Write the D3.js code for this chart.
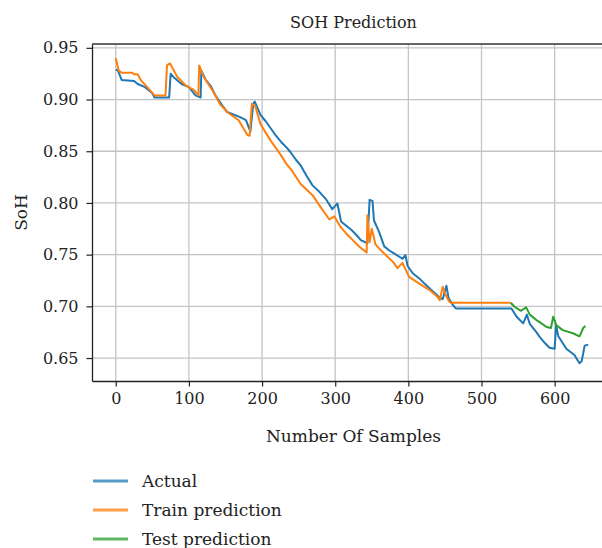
<!DOCTYPE html>
<html>
<head>
<meta charset="utf-8">
<script src="https://cdn.jsdelivr.net/npm/d3@7"></script>
<style>
    body { margin: 0; background: #fff; }
    text { font-family: "DejaVu Serif", "Liberation Serif", serif; fill: #222; }
</style>
</head>
<body>
<div id="graphContainer"></div>
<script>
//values (sample index / SoH)
var actualX = [0, 3, 8, 25, 30, 40, 50, 53, 73, 75, 80, 90, 100, 109, 116, 117, 123, 130, 137, 146, 152, 159, 170, 178, 184, 188, 190, 198, 205, 212, 219, 226, 233, 239, 246, 253, 261, 269, 278, 287, 296, 303, 308, 315, 322, 329, 335, 344, 347, 351, 353, 360, 367, 374, 381, 392, 396, 399, 406, 415, 422, 431, 442, 447, 452, 455, 461, 465, 541, 548, 557, 562, 566, 575, 579, 586, 593, 600, 602, 605, 616, 627, 634, 637, 641, 646];
var actualY = [0.929, 0.928, 0.919, 0.918, 0.915, 0.912, 0.906, 0.902, 0.902, 0.925, 0.921, 0.915, 0.912, 0.904, 0.902, 0.928, 0.919, 0.913, 0.903, 0.894, 0.888, 0.886, 0.883, 0.880, 0.869, 0.896, 0.898, 0.885, 0.879, 0.872, 0.865, 0.859, 0.854, 0.849, 0.842, 0.836, 0.826, 0.817, 0.811, 0.804, 0.794, 0.7995, 0.782, 0.778, 0.774, 0.769, 0.764, 0.761, 0.803, 0.802, 0.783, 0.772, 0.758, 0.754, 0.751, 0.746, 0.7495, 0.739, 0.732, 0.727, 0.722, 0.716, 0.709, 0.707, 0.720, 0.708, 0.701, 0.698, 0.698, 0.690, 0.6835, 0.692, 0.683, 0.675, 0.671, 0.665, 0.660, 0.659, 0.682, 0.671, 0.659, 0.653, 0.645, 0.647, 0.662, 0.663];

var trainX = [0, 4, 8, 22, 25, 30, 34, 43, 53, 68, 70, 74, 84, 95, 107, 113, 114, 120, 132, 143, 154, 168, 180, 183, 186, 191, 198, 205, 212, 219, 226, 233, 241, 253, 269, 280, 292, 299, 307, 315, 324, 333, 343, 344, 347, 350, 355, 360, 370, 379, 385, 392, 401, 415, 429, 440, 443, 447, 451, 456, 458, 540];
var trainY = [0.940, 0.928, 0.926, 0.926, 0.9245, 0.9245, 0.919, 0.912, 0.904, 0.904, 0.933, 0.935, 0.922, 0.914, 0.909, 0.904, 0.933, 0.922, 0.909, 0.895, 0.887, 0.880, 0.8656, 0.865, 0.896, 0.893, 0.876, 0.868, 0.860, 0.853, 0.846, 0.838, 0.831, 0.818, 0.8075, 0.796, 0.784, 0.787, 0.777, 0.7705, 0.764, 0.7576, 0.752, 0.788, 0.762, 0.775, 0.760, 0.756, 0.749, 0.743, 0.737, 0.742, 0.7285, 0.722, 0.7157, 0.709, 0.706, 0.719, 0.711, 0.7045, 0.7035, 0.7035];

var testX = [540, 545, 554, 561, 566, 575, 579, 589, 595, 598, 602, 611, 625, 634, 639, 642];
var testY = [0.7035, 0.6996, 0.6957, 0.699, 0.692, 0.6867, 0.685, 0.680, 0.679, 0.690, 0.682, 0.677, 0.674, 0.671, 0.679, 0.681];

var xTicks = [0, 100, 200, 300, 400, 500, 600];
var yTicks = [0.65, 0.70, 0.75, 0.80, 0.85, 0.90, 0.95];

var seriesNames = ["Actual", "Train prediction", "Test prediction"];
var seriesColors = ["#1f77b4", "#ff7f0e", "#2ca02c"];

//set up drawing space
var width = 602,
    height = 548,
    margin = {top: 44, left: 92, bottom: 167, right: -13};

var svg = d3.select("#graphContainer").append("svg")
    .attr("width", width)
    .attr("height", height);

var chartWidth = width - margin.left - margin.right,
    chartHeight = height - margin.top - margin.bottom;

//matplotlib style limits with 5% padding
var x = d3.scaleLinear().domain([-32.5, 682.5]).range([0, chartWidth]);
var y = d3.scaleLinear().domain([0.6278, 0.9537]).range([chartHeight, 0]);

var chartLayer = svg.append("g")
    .attr("transform", "translate(" + [margin.left, margin.top] + ")");

//grid
chartLayer.append("g").selectAll("line").data(xTicks).enter().append("line")
    .attr("x1", function (d) { return x(d); })
    .attr("x2", function (d) { return x(d); })
    .attr("y1", 0)
    .attr("y2", chartHeight)
    .attr("stroke", "#c4c4c4")
    .attr("stroke-width", 1.3);

chartLayer.append("g").selectAll("line").data(yTicks).enter().append("line")
    .attr("x1", 0)
    .attr("x2", chartWidth)
    .attr("y1", function (d) { return y(d); })
    .attr("y2", function (d) { return y(d); })
    .attr("stroke", "#c4c4c4")
    .attr("stroke-width", 1.3);

//lines
var line = d3.line()
    .x(function (d) { return x(d[0]); })
    .y(function (d) { return y(d[1]); });

var series = [
    d3.zip(actualX, actualY),
    d3.zip(trainX, trainY),
    d3.zip(testX, testY)
];

chartLayer.append("g").selectAll("path").data(series).enter().append("path")
    .attr("d", line)
    .attr("fill", "none")
    .attr("stroke", function (d, i) { return seriesColors[i]; })
    .attr("stroke-width", 2)
    .attr("stroke-linejoin", "round");

//frame (top and right spines)
chartLayer.append("line")
    .attr("x1", 0).attr("x2", chartWidth)
    .attr("y1", 0).attr("y2", 0)
    .attr("stroke", "#333").attr("stroke-width", 1.3);
chartLayer.append("line")
    .attr("x1", chartWidth).attr("x2", chartWidth)
    .attr("y1", 0).attr("y2", chartHeight)
    .attr("stroke", "#333").attr("stroke-width", 1.3);

//axes
var xAxis = chartLayer.append("g")
    .attr("transform", "translate(0," + chartHeight + ")")
    .call(d3.axisBottom(x).tickValues(xTicks).tickFormat(d3.format("d")).tickSize(5.5).tickSizeOuter(0).tickPadding(6));

var yAxis = chartLayer.append("g")
    .call(d3.axisLeft(y).tickValues(yTicks).tickFormat(d3.format(".2f")).tickSize(5.5).tickSizeOuter(0).tickPadding(8));

[xAxis, yAxis].forEach(function (a) {
    a.select(".domain").attr("stroke", "#222").attr("stroke-width", 1.3);
    a.selectAll(".tick line").attr("stroke", "#222").attr("stroke-width", 1.2);
    a.selectAll(".tick text").attr("font-size", 16).attr("font-family", null).style("fill", "#222");
});

//title and axis labels
svg.append("text")
    .attr("x", margin.left + chartWidth / 2)
    .attr("y", 28)
    .attr("text-anchor", "middle")
    .attr("font-size", 16)
    .text("SOH Prediction");

svg.append("text")
    .attr("x", margin.left + chartWidth / 2)
    .attr("y", 442)
    .attr("text-anchor", "middle")
    .attr("font-size", 17)
    .text("Number Of Samples");

svg.append("text")
    .attr("transform", "translate(27," + (margin.top + chartHeight / 2) + ") rotate(-90)")
    .attr("text-anchor", "middle")
    .attr("font-size", 17)
    .text("SoH");

//legend
var legend = svg.append("g").selectAll("g").data(seriesNames).enter().append("g")
    .attr("transform", function (d, i) { return "translate(93," + (481 + i * 29) + ")"; });

legend.append("line")
    .attr("x1", 0).attr("x2", 35)
    .attr("stroke", function (d, i) { return seriesColors[i]; })
    .attr("stroke-opacity", 0.75)
    .attr("stroke-width", 3);

legend.append("text")
    .attr("x", 49)
    .attr("y", 6)
    .attr("font-size", 17)
    .text(function (d) { return d; });
</script>
</body>
</html>
